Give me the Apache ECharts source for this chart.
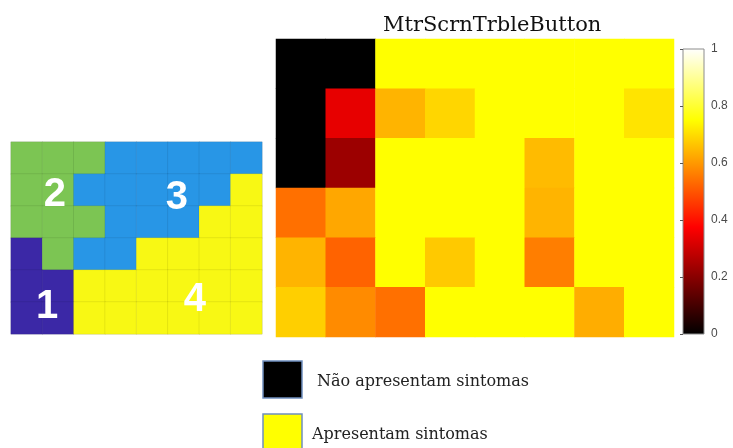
<!DOCTYPE html>
<html>
<head>
<meta charset="utf-8">
<script src="https://cdn.jsdelivr.net/npm/echarts@6/dist/echarts.min.js"></script>
<style>
  html, body { margin: 0; padding: 0; background: #fff; }
  #main { width: 733px; height: 448px; }
</style>
</head>
<body>
<div id="main"></div>
<script>
// left map: region number per cell, top row first
var mapRegions = [
  [2, 2, 2, 3, 3, 3, 3, 3],
  [2, 2, 3, 3, 3, 3, 3, 4],
  [2, 2, 2, 3, 3, 3, 4, 4],
  [1, 2, 3, 3, 4, 4, 4, 4],
  [1, 1, 4, 4, 4, 4, 4, 4],
  [1, 1, 4, 4, 4, 4, 4, 4]
]
var regionColors = ['#3b28a6', '#7cc553', '#2896e6', '#f8f814']
// region numbers placed on the map (x, y in cell units, y from bottom)
var regionLabels = [
  { name: '1', value: [1.15, 0.84] },
  { name: '2', value: [1.40, 4.34] },
  { name: '3', value: [5.29, 4.25] },
  { name: '4', value: [5.86, 1.06] }
]

// right heatmap MtrScrnTrbleButton, top row first
var heatValues = [
  [0.00, 0.00, 0.75, 0.75, 0.75, 0.75, 0.75, 0.75],
  [0.00, 0.34, 0.64, 0.69, 0.75, 0.75, 0.75, 0.71],
  [0.00, 0.23, 0.75, 0.75, 0.75, 0.65, 0.75, 0.75],
  [0.54, 0.62, 0.75, 0.75, 0.75, 0.64, 0.75, 0.75],
  [0.64, 0.52, 0.75, 0.67, 0.75, 0.56, 0.75, 0.75],
  [0.68, 0.58, 0.54, 0.75, 0.75, 0.75, 0.63, 0.75]
]
var colNames = ['1', '2', '3', '4', '5', '6', '7', '8']
var rowNames = ['1', '2', '3', '4', '5', '6']
// hot colormap, evenly spaced stops
var hotColors = ['#000000', '#550000', '#aa0000', '#ff0000', '#ff5500', '#ffaa00', '#ffff00', '#ffff80', '#ffffff']

var legendNames = ['Não apresentam sintomas', 'Apresentam sintomas']

function toCells (rows) {
  var out = []
  for (var r = 0; r < rows.length; r++) {
    for (var c = 0; c < rows[r].length; c++) {
      out.push([c, r, rows[r][c]])
    }
  }
  return out
}

var chart = echarts.init(document.getElementById('main'))
chart.setOption({
  animation: false,
  title: {
    text: 'MtrScrnTrbleButton',
    left: 378,
    top: 10,
    textStyle: {
      fontFamily: 'DejaVu Serif',
      fontSize: 21,
      fontWeight: 'normal',
      color: '#111'
    }
  },
  grid: [
    { left: 11, top: 142, width: 251, height: 192, show: true, borderColor: '#e4e4e4', borderWidth: 1, backgroundColor: 'transparent' },
    { left: 276, top: 39, width: 398, height: 298 },
    {
      left: 683,
      top: 49,
      width: 21,
      height: 285,
      show: true,
      borderColor: '#8c8c8c',
      borderWidth: 1,
      backgroundColor: {
        type: 'linear',
        x: 0,
        y: 1,
        x2: 0,
        y2: 0,
        colorStops: [
          { offset: 0, color: '#000000' },
          { offset: 0.375, color: '#ff0000' },
          { offset: 0.75, color: '#ffff00' },
          { offset: 1, color: '#ffffff' }
        ]
      }
    }
  ],
  xAxis: [
    { type: 'category', gridIndex: 0, data: colNames, show: false },
    { type: 'category', gridIndex: 1, data: colNames, show: false },
    { type: 'value', gridIndex: 2, min: 0, max: 1, show: false },
    { type: 'value', gridIndex: 0, min: 0, max: 8, position: 'top', show: false }
  ],
  yAxis: [
    { type: 'category', gridIndex: 0, data: rowNames, inverse: true, show: false },
    { type: 'category', gridIndex: 1, data: rowNames, inverse: true, show: false },
    {
      type: 'value',
      gridIndex: 2,
      min: 0,
      max: 1,
      interval: 0.2,
      position: 'right',
      axisLine: { show: false },
      axisTick: { show: true, inside: true, length: 3, lineStyle: { color: '#555' } },
      splitLine: { show: false },
      axisLabel: { margin: 7, fontSize: 12, fontFamily: 'Liberation Sans', color: '#4a4a4a' }
    },
    { type: 'value', gridIndex: 0, min: 0, max: 6, position: 'right', show: false }
  ],
  visualMap: [
    {
      type: 'piecewise',
      seriesIndex: 0,
      show: false,
      pieces: [
        { value: 1, color: regionColors[0] },
        { value: 2, color: regionColors[1] },
        { value: 3, color: regionColors[2] },
        { value: 4, color: regionColors[3] }
      ]
    },
    {
      type: 'continuous',
      seriesIndex: 1,
      show: false,
      min: 0,
      max: 1,
      inRange: { color: hotColors }
    }
  ],
  series: [
    {
      type: 'heatmap',
      xAxisIndex: 0,
      yAxisIndex: 0,
      data: toCells(mapRegions),
      itemStyle: { borderColor: 'rgba(0,0,0,0.07)', borderWidth: 1 }
    },
    {
      type: 'heatmap',
      xAxisIndex: 1,
      yAxisIndex: 1,
      data: toCells(heatValues)
    },
    {
      type: 'scatter',
      xAxisIndex: 3,
      yAxisIndex: 3,
      symbolSize: 0,
      z: 10,
      itemStyle: { opacity: 1 },
      data: regionLabels,
      label: {
        show: true,
        position: 'inside',
        formatter: '{b}',
        color: '#ffffff',
        opacity: 1,
        fontSize: 40,
        fontWeight: 'bold',
        fontFamily: 'Liberation Sans'
      }
    }
  ],
  graphic: [
    { type: 'rect', shape: { x: 263, y: 361, width: 39, height: 37 }, style: { fill: '#000', stroke: '#6f8fbf', lineWidth: 1.5 } },
    { type: 'rect', shape: { x: 263, y: 414, width: 39, height: 40 }, style: { fill: '#ffff00', stroke: '#6f8fbf', lineWidth: 1.5 } },
    { type: 'text', x: 317, y: 382, style: { text: legendNames[0], fill: '#222', font: '16px "DejaVu Serif"', verticalAlign: 'middle' } },
    { type: 'text', x: 312, y: 435, style: { text: legendNames[1], fill: '#222', font: '16px "DejaVu Serif"', verticalAlign: 'middle' } }
  ]
})
</script>
</body>
</html>
